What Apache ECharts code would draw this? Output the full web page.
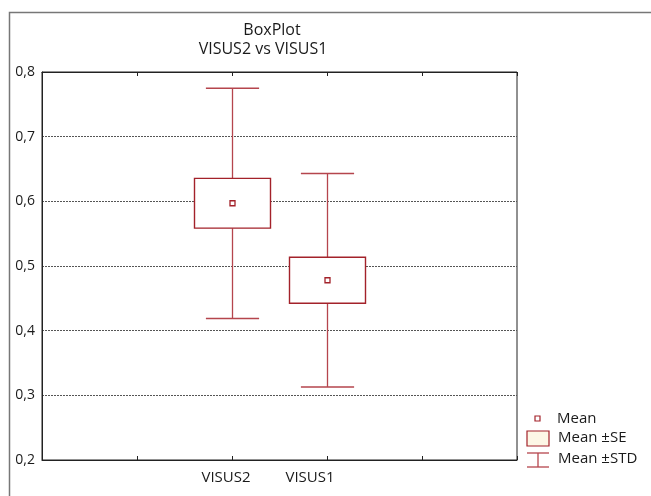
<!DOCTYPE html>
<html>
<head>
<meta charset="utf-8">
<script src="https://cdn.jsdelivr.net/npm/echarts@6/dist/echarts.min.js"></script>
<style>
html,body{margin:0;padding:0;background:#fff;}
#c{width:651px;height:496px;}
</style>
</head>
<body>
<div id="c"></div>
<script>
var categories = ['VISUS2', 'VISUS1'];
var means = [0.597, 0.478];
var seVals = [0.0385, 0.0355];
var stdVals = [0.178, 0.165];
var yTicks = [0.2, 0.3, 0.4, 0.5, 0.6, 0.7, 0.8];
var catPositions = [2, 3];

var FONT = '"Open Sans", sans-serif';
var TXT = '#1a1a1a';
var RED = '#a3222a';
var WHISK = '#b5454d';

var data = categories.map(function (c, i) {
  return [catPositions[i], means[i], seVals[i], stdVals[i]];
});

function renderItem(params, api) {
  var x = api.value(0), m = api.value(1), se = api.value(2), sd = api.value(3);
  var top = api.coord([x, m + sd]);
  var bot = api.coord([x, m - sd]);
  var bTop = api.coord([x, m + se]);
  var bBot = api.coord([x, m - se]);
  var boxW = api.size([0.8, 0])[0];
  var capW = api.size([0.56, 0])[0];
  var c = api.coord([x, m]);
  var cx = Math.round(c[0]) + 0.5;
  return {
    type: 'group',
    children: [
      { type: 'line', shape: { x1: cx, y1: top[1], x2: cx, y2: bTop[1] }, style: { stroke: WHISK, lineWidth: 1.3 } },
      { type: 'line', shape: { x1: cx, y1: bBot[1], x2: cx, y2: bot[1] }, style: { stroke: WHISK, lineWidth: 1.3 } },
      { type: 'line', shape: { x1: cx - capW / 2, y1: top[1], x2: cx + capW / 2, y2: top[1] }, style: { stroke: WHISK, lineWidth: 1.5 } },
      { type: 'line', shape: { x1: cx - capW / 2, y1: bot[1], x2: cx + capW / 2, y2: bot[1] }, style: { stroke: WHISK, lineWidth: 1.5 } },
      { type: 'rect', shape: { x: cx - boxW / 2, y: bTop[1], width: boxW, height: bBot[1] - bTop[1] }, style: { fill: '#fff', stroke: RED, lineWidth: 1.4 } },
      { type: 'rect', shape: { x: cx - 2.5, y: c[1] - 2.5, width: 5, height: 5 }, style: { fill: '#fff', stroke: RED, lineWidth: 1.3 } }
    ]
  };
}

var chart = echarts.init(document.getElementById('c'), null, { renderer: 'canvas' });
chart.setOption({
  backgroundColor: '#fff',
  animation: false,
  title: [{
    text: 'BoxPlot',
    left: 272, top: 22, textAlign: 'center', padding: 0,
    textStyle: { fontFamily: FONT, fontSize: 16, fontWeight: 'normal', color: TXT }
  }, {
    text: 'VISUS2 vs VISUS1',
    left: 263, top: 41, textAlign: 'center', padding: 0,
    textStyle: { fontFamily: FONT, fontSize: 16, fontWeight: 'normal', color: TXT }
  }],
  grid: { left: 42, right: 134, top: 72, bottom: 36, show: true, borderColor: '#222', borderWidth: 1, backgroundColor: 'transparent' },
  xAxis: [{
    type: 'value', min: 0, max: 5, interval: 1, position: 'bottom',
    axisLine: { show: true, lineStyle: { color: '#222', width: 1 } },
    axisTick: { show: true, inside: true, length: 4, lineStyle: { color: '#222' } },
    splitLine: { show: false },
    axisLabel: {
      margin: 10, fontFamily: FONT, fontSize: 15, color: TXT,
      formatter: function (v) {
        var i = catPositions.indexOf(v);
        if (i < 0) return '';
        return i === 0 ? '{a|' + categories[i] + '}' : '{b|' + categories[i] + '}';
      },
      rich: {
        a: { fontFamily: FONT, fontSize: 15, color: TXT, padding: [0, 12, 0, 0] },
        b: { fontFamily: FONT, fontSize: 15, color: TXT, padding: [0, 34, 0, 0] }
      }
    }
  }, {
    type: 'value', min: 0, max: 5, interval: 1, position: 'top',
    axisLine: { show: true, lineStyle: { color: '#222', width: 1 } },
    axisTick: { show: true, inside: true, length: 4, lineStyle: { color: '#222' } },
    axisLabel: { show: false }, splitLine: { show: false }
  }],
  yAxis: {
    type: 'value', min: 0.2, max: 0.8, interval: 0.1,
    axisLine: { show: true, lineStyle: { color: '#222', width: 1 } },
    axisTick: { show: false },
    axisLabel: {
      margin: 7, fontFamily: FONT, fontSize: 14, color: TXT,
      formatter: function (v) { return (Math.round(v * 10) / 10).toFixed(1).replace('.', ','); }
    },
    splitLine: { show: true, lineStyle: { color: '#555', type: [2, 1], width: 1 } }
  },
  series: [{
    type: 'custom',
    renderItem: renderItem,
    data: data,
    encode: { x: 0, y: [1] },
    z: 5
  }],
  graphic: [
    { type: 'rect', shape: { x: 9.5, y: 12.5, width: 700, height: 600 }, style: { fill: 'none', stroke: '#777', lineWidth: 1.5 }, silent: true, z: 0 },
    { type: 'rect', shape: { x: 535, y: 416, width: 5, height: 5 }, style: { fill: '#fff', stroke: RED, lineWidth: 1.2 } },
    { type: 'text', style: { x: 557, y: 419, text: 'Mean', fontFamily: FONT, fontSize: 15, fill: TXT, verticalAlign: 'middle' } },
    { type: 'rect', shape: { x: 527, y: 431, width: 22, height: 15 }, style: { fill: '#fdf7e6', stroke: RED, lineWidth: 1.2 } },
    { type: 'text', style: { x: 558, y: 438, text: 'Mean \u00b1SE', fontFamily: FONT, fontSize: 15, fill: TXT, verticalAlign: 'middle' } },
    { type: 'line', shape: { x1: 527, y1: 453, x2: 549, y2: 453 }, style: { stroke: WHISK, lineWidth: 1.3 } },
    { type: 'line', shape: { x1: 538, y1: 453, x2: 538, y2: 467 }, style: { stroke: WHISK, lineWidth: 1.3 } },
    { type: 'line', shape: { x1: 527, y1: 467, x2: 549, y2: 467 }, style: { stroke: WHISK, lineWidth: 1.3 } },
    { type: 'text', style: { x: 558, y: 459, text: 'Mean \u00b1STD', fontFamily: FONT, fontSize: 15, fill: TXT, verticalAlign: 'middle' } }
  ]
});
</script>
</body>
</html>
